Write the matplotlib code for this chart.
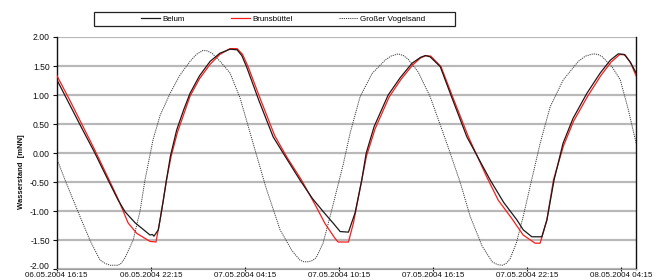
import matplotlib
matplotlib.use("Agg")
import matplotlib.pyplot as plt
import matplotlib.dates as mdates
from matplotlib.patches import Rectangle
from matplotlib.transforms import ScaledTranslation
import datetime as dt

plt.rcParams['font.family'] = ['Liberation Sans', 'DejaVu Sans']

start = dt.datetime(2004, 5, 6, 16, 15)
end = dt.datetime(2004, 5, 8, 5, 12)
tick_hours = [0, 6, 12, 18, 24, 30, 36]
y_ticks = [-2.0, -1.5, -1.0, -0.5, 0.0, 0.5, 1.0, 1.5, 2.0]

series_names = ["Belum", "Brunsbüttel", "Großer Vogelsand"]

# hours after 06.05.2004 16:15 and water level [mNN]
belum_h = [0.0, 0.8, 1.6, 2.4, 3.27, 3.9, 4.36, 5.0, 5.5, 5.95, 6.1, 6.2, 6.48, 6.8, 7.0,
           7.25, 7.65, 8.1, 8.5, 9.1, 9.78, 10.4, 11.05, 11.5, 11.8, 12.1, 12.9, 13.8,
           14.6, 15.5, 16.3, 17.0, 17.64, 18.07, 18.6, 19.02, 19.45, 19.73, 20.24, 21.13,
           21.9, 22.66, 23.2, 23.5, 23.8, 24.45, 25.2, 26.15, 27.63, 28.5, 29.34, 29.74, 30.29,
           30.93, 31.25, 31.71, 32.28, 32.92, 33.8, 34.65, 35.29, 35.8, 36.18, 36.56, 36.94]
belum_v = [1.27, 0.85, 0.43, 0.02, -0.46, -0.80, -1.01, -1.20, -1.31, -1.41, -1.40, -1.43,
           -1.32, -0.81, -0.46, -0.05, 0.40, 0.75, 1.03, 1.33, 1.58, 1.72, 1.79, 1.78, 1.68,
           1.49, 0.90, 0.28, -0.07, -0.46, -0.78, -1.01, -1.21, -1.35, -1.36, -1.03, -0.46,
           0.00, 0.46, 1.00, 1.30, 1.55, 1.65, 1.68, 1.66, 1.49, 0.95, 0.28, -0.46, -0.85, -1.15,
           -1.32, -1.44, -1.44, -1.15, -0.46, 0.17, 0.60, 1.03, 1.38, 1.60, 1.71, 1.70, 1.57, 1.38]

bruns_h = [0.0, 0.8, 1.6, 2.4, 3.27, 3.9, 4.55, 5.1, 5.95, 6.33, 6.59, 7.0, 7.3, 7.7, 8.5,
           9.1, 9.78, 10.4, 11.05, 11.5, 11.85, 12.2, 13.0, 13.9, 14.7, 15.6, 16.5, 17.1,
           17.75, 17.94, 18.6, 18.92, 19.45, 19.75, 20.3, 21.2, 21.95, 22.7, 23.2, 23.55, 23.85,
           24.5, 25.3, 26.25, 27.4, 28.15, 29.0, 29.74, 30.5, 30.82, 31.25, 31.67, 32.3,
           32.95, 33.85, 34.7, 35.35, 35.9, 36.25, 36.6, 36.94]
bruns_v = [1.34, 0.93, 0.50, 0.07, -0.42, -0.78, -1.20, -1.38, -1.52, -1.53, -1.15, -0.46,
           -0.05, 0.36, 0.98, 1.28, 1.53, 1.70, 1.80, 1.80, 1.70, 1.49, 0.92, 0.30, -0.08,
           -0.46, -0.90, -1.21, -1.47, -1.53, -1.53, -1.20, -0.46, -0.05, 0.42, 0.97, 1.27,
           1.52, 1.64, 1.68, 1.67, 1.49, 0.93, 0.28, -0.40, -0.81, -1.12, -1.41, -1.55, -1.55,
           -1.15, -0.46, 0.12, 0.55, 0.98, 1.34, 1.57, 1.70, 1.69, 1.55, 1.33]

vogel_h = [0.0, 0.53, 1.36, 2.12, 2.76, 3.1, 3.4, 3.91, 4.1, 4.36, 4.87, 5.31, 5.63, 6.14,
           6.59, 7.23, 7.87, 8.5, 8.9, 9.33, 9.6, 9.9, 10.42, 11.05, 11.69, 12.52, 13.35,
           14.24, 15.0, 15.5, 15.75, 16.03, 16.3, 16.54, 16.98, 17.43, 18.26, 18.71, 19.34,
           20.1, 20.93, 21.3, 21.77, 22.1, 22.4, 23.04, 23.81, 24.87, 25.72, 26.36, 27.12,
           27.76, 28.1, 28.4, 28.65, 28.9, 29.3, 29.74, 30.82, 31.46, 32.29, 33.25, 33.7,
           34.2, 34.5, 34.78, 35.42, 35.93, 36.44, 36.94]
vogel_v = [-0.09, -0.46, -1.01, -1.50, -1.84, -1.90, -1.93, -1.93, -1.90, -1.80, -1.50,
           -1.00, -0.46, 0.23, 0.65, 1.03, 1.35, 1.58, 1.70, 1.77, 1.76, 1.72, 1.58, 1.38,
           0.95, 0.17, -0.60, -1.32, -1.68, -1.84, -1.87, -1.87, -1.85, -1.80, -1.55, -1.09,
           -0.20, 0.35, 0.97, 1.37, 1.60, 1.67, 1.71, 1.68, 1.62, 1.40, 0.97, 0.17, -0.50,
           -1.09, -1.60, -1.87, -1.92, -1.93, -1.90, -1.82, -1.55, -1.09, 0.17, 0.80, 1.26,
           1.58, 1.67, 1.71, 1.70, 1.66, 1.48, 1.26, 0.75, 0.17]


def times(hours):
    return [start + dt.timedelta(hours=h) for h in hours]


fig = plt.figure(figsize=(6.67, 2.80), dpi=100)
ax = fig.add_axes([56.7 / 667, 1 - 269.3 / 280, (636.3 - 56.7) / 667, (269.3 - 37) / 280])

for y in y_ticks:
    ax.axhline(y, color='#b8b8b8', lw=1.6, zorder=1)

l3, = ax.plot(times(vogel_h), vogel_v, color='#3a3a3a', lw=0.7, ls=(0, (1.2, 1.0)), zorder=3)
l2, = ax.plot(times(bruns_h), bruns_v, color='#ff1a1a', lw=0.9, zorder=4)
l1, = ax.plot(times(belum_h), belum_v, color='#1a1a1a', lw=0.9, zorder=5)

ax.set_xlim(start, end)
ax.set_ylim(-2.0, 2.0)
ax.set_xticks(times(tick_hours))
ax.xaxis.set_major_formatter(mdates.DateFormatter('%d.%m.%Y %H:%M'))
ax.set_yticks(y_ticks)
ax.set_yticklabels([f"{v:.2f}" for v in y_ticks])

ax.spines['top'].set_visible(False)
ax.spines['bottom'].set_color('#9a9a9a')
ax.spines['left'].set_color('#111111')
ax.spines['right'].set_color('#111111')
ax.spines['left'].set_linewidth(1.0)
ax.spines['right'].set_linewidth(1.0)

ax.tick_params(axis='y', labelsize=6.2, length=3, width=0.8, pad=2, colors='#111111')
ax.tick_params(axis='x', labelsize=5.8, length=3, width=0.8, pad=0.2, direction='inout', colors='#111111')

# lift the lowest y label slightly so it does not collide with the first date label
lowest = ax.get_yticklabels()[0]
lowest.set_transform(lowest.get_transform() + ScaledTranslation(0, 2.5 / 72, fig.dpi_scale_trans))

ax.set_ylabel('Wasserstand  [mNN]', fontsize=5.5, fontweight='bold', color='#111111')
ax.yaxis.set_label_coords(-0.055, 0.42)

# legend
fig.patches.append(Rectangle((94 / 667, 1 - 26 / 280), (455 - 94) / 667, 14 / 280,
                             transform=fig.transFigure, fill=False, edgecolor='#222222', lw=0.9))
leg = fig.legend([l1, l2, l3], series_names, loc='center left',
                 bbox_to_anchor=(141 / 667, 1 - 19 / 280), ncol=3, frameon=False,
                 fontsize=5.8, handlelength=2.4, handletextpad=0.2, columnspacing=5.8,
                 borderpad=0, borderaxespad=0)

fig.savefig('out.png', dpi=100)
